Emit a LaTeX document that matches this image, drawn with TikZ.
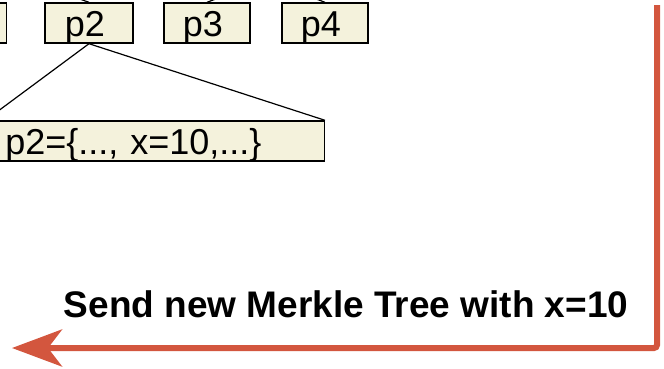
\documentclass[tikz,border=0pt]{standalone}
\usepackage{fontspec}
\setmainfont{Liberation Sans}
\usetikzlibrary{arrows.meta}
\definecolor{boxfill}{RGB}{244,242,220}
\definecolor{sendred}{RGB}{211,86,62}
\tikzset{
  hashbox/.style={draw=black, line width=1.4pt, fill=boxfill,
    font=\fontsize{36}{42}\selectfont, text height=26pt, text depth=0pt,
    inner ysep=7pt, inner xsep=0pt, minimum height=40pt},
  treeedge/.style={draw=black, line width=1.2pt},
  sendarrow/.style={draw=sendred, line width=6pt, rounded corners=3pt,
    -{Stealth[length=50pt, width=37pt, inset=14pt]}},
  caption/.style={font=\fontsize{37}{44}\selectfont\bfseries, inner sep=0pt}
}
\begin{document}
\begin{tikzpicture}[x=1pt, y=-1pt]
\useasboundingbox (0,0) rectangle (664,368);

% leaf hashes
\node[hashbox, minimum width=87pt] (p1) at (-37,23) {};
\node[hashbox, minimum width=88pt] (p2) at (89,23) {p2\kern8pt};
\node[hashbox, minimum width=86pt] (p3) at (207,23) {p3\kern8pt};
\node[hashbox, minimum width=86pt] (p4) at (325,23) {p4\kern8pt};

% expanded contents of p2
\node[hashbox, anchor=east, inner xsep=19pt, text width=300pt, align=left]
  (detail) at (325,141) {p2=\{..., x=10,...\}};

% parents above the leaves
\coordinate (h12) at (26,-20);
\coordinate (h34) at (266,-20);
\draw[treeedge] (h12) -- (p1.north);
\draw[treeedge] (h12) -- (p2.north);
\draw[treeedge] (h34) -- (p3.north);
\draw[treeedge] (h34) -- (p4.north);

% p2 opened up
\draw[treeedge] (p2.south) -- (detail.north west);
\draw[treeedge] (p2.south) -- (detail.north east);

% message sent back
\coordinate (from) at (657,5);
\coordinate (turn) at (657,348);
\coordinate (to) at (12,348);
\draw[sendarrow] (from) -- (turn) -- (to);
\node[caption, anchor=base] (msg) at (346,317) {Send new Merkle Tree with x=10};
\end{tikzpicture}
\end{document}
